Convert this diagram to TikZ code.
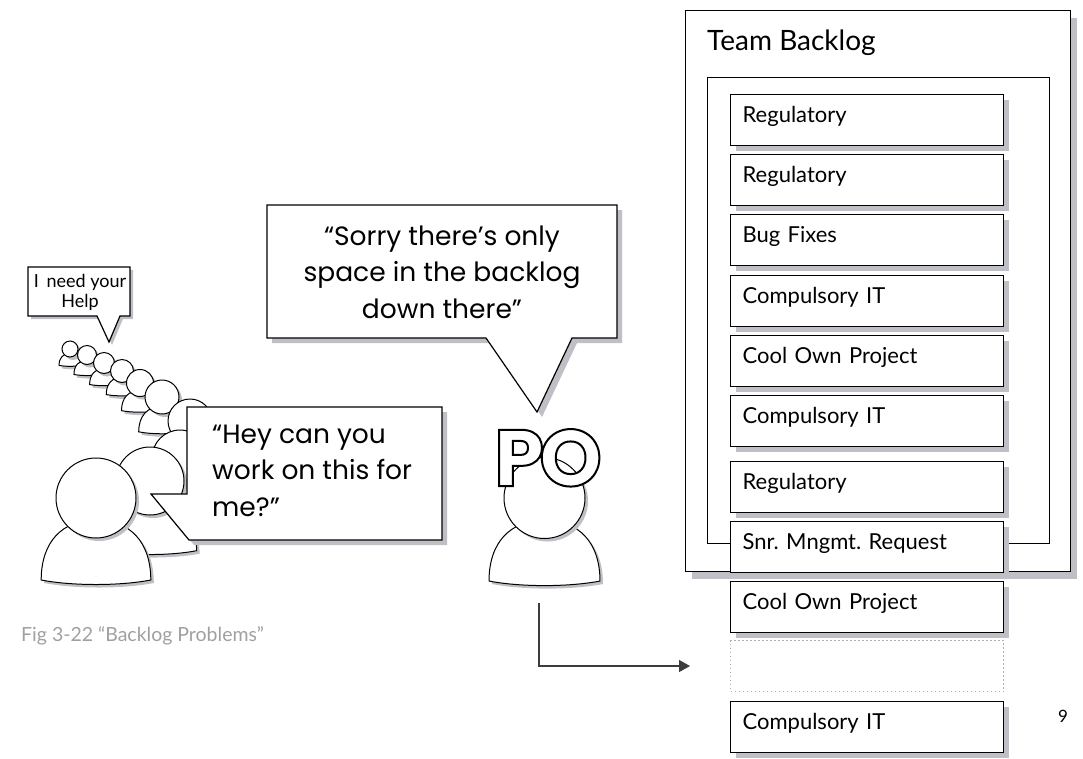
\documentclass[tikz,border=0pt]{standalone}
\usepackage{fontspec}
\setmainfont{Lato}
\newfontfamily\bubblefont{Poppins}
\newfontfamily\poline{Poppins}[BoldFeatures={FakeBold=2.5}]
\usetikzlibrary{shadows,arrows.meta,calc}
\frenchspacing

\definecolor{shgray}{RGB}{190,192,197}
\definecolor{capgray}{RGB}{160,160,160}
\definecolor{linegray}{RGB}{60,60,60}
\definecolor{dotgray}{RGB}{175,175,175}

% one person: body dome, then the head as a named circle node
\newcommand\drawperson[4]{% #1 name, #2 cx, #3 cy, #4 head radius
  \path[personline, softshadow]
    ({#2-1.37*#4},{#3+2.05*#4})
    .. controls ({#2-1.37*#4},{#3+1.1*#4}) and ({#2-0.85*#4},{#3+0.55*#4}) .. ({#2},{#3+0.55*#4})
    .. controls ({#2+0.85*#4},{#3+0.55*#4}) and ({#2+1.37*#4},{#3+1.1*#4}) .. ({#2+1.37*#4},{#3+2.05*#4})
    .. controls ({#2+0.6*#4},{#3+2.2*#4}) and ({#2-0.6*#4},{#3+2.2*#4}) .. cycle;
  \node[personline, softshadow, circle, inner sep=0pt, minimum size={2*#4pt}] (#1) at (#2,#3) {};
}

\begin{document}
\begin{tikzpicture}[x=1pt,y=-1pt,
  outline/.style={draw=black, line width=1.2pt, fill=white},
  personline/.style={draw=black, line width=1pt, fill=white},
  shadowed/.style={drop shadow={shadow xshift=5pt, shadow yshift=-5pt, fill=shgray, opacity=1}},
  softshadow/.style={drop shadow={shadow xshift=3pt, shadow yshift=-3pt, fill=shgray, opacity=1}},
  item/.style={outline, shadowed, anchor=north west, inner xsep=12pt, inner ysep=0pt,
    text width=249pt, align=left, text height=28pt, text depth=23pt,
    font=\fontsize{22}{26}\selectfont},
  gapbox/.style={draw=dotgray, line width=1pt, dash pattern=on 1.5pt off 2.5pt,
    anchor=north west, minimum width=273pt, minimum height=51pt, inner sep=0pt},
  bubbletext/.style={inner sep=0pt, font=\bubblefont\fontsize{26.5}{36.5}\selectfont},
]
\useasboundingbox (0,0) rectangle (1083,758);

% ---------------- team backlog panel ----------------
\node[outline, drop shadow={shadow xshift=6pt, shadow yshift=-7pt, fill=shgray, opacity=1},
  anchor=north west, minimum width=385pt, minimum height=561pt, inner sep=0pt] (backlog) at (685,10) {};
\node[anchor=base west, inner sep=0pt, font=\fontsize{28}{32}\selectfont] (title) at (707,50) {Team Backlog};
\node[outline, anchor=north west, minimum width=342pt, minimum height=466pt, inner sep=0pt] (sprint) at (707,77) {};

\node[item] (i1)  at (730,94)  {Regulatory};
\node[item] (i2)  at (730,154) {Regulatory};
\node[item] (i3)  at (730,214) {Bug Fixes};
\node[item] (i4)  at (730,275) {Compulsory IT};
\node[item] (i5)  at (730,335) {Cool Own Project};
\node[item] (i6)  at (730,395) {Compulsory IT};
\node[item] (i7)  at (730,461) {Regulatory};
\node[item] (i8)  at (730,521) {Snr. Mngmt. Request};
\node[item] (i9)  at (730,581) {Cool Own Project};
\node[gapbox] (gap) at (730,640) {};
\node[item] (i10) at (730,701) {Compulsory IT};

% ---------------- queue of requesters ----------------
\drawperson{q1}{70}{349}{8}
\drawperson{q2}{87}{355}{9.5}
\drawperson{q3}{104}{363}{10.5}
\drawperson{q4}{122}{371}{11.5}
\drawperson{q5}{140}{383}{13.5}
\drawperson{q6}{162}{397}{17}
\drawperson{q7}{190}{421}{22}
\drawperson{q8}{180}{458}{28}
\drawperson{q9}{150}{481}{34}
\drawperson{q10}{96}{498}{40}

% small bubble at the back of the queue
\path[outline, softshadow] (28,267) -- (130,267) -- (130,316) -- (120,316) -- (109,342)
  -- (97,316) -- (28,316) -- cycle;
\node[anchor=base, inner sep=0pt, font=\fontsize{18}{20}\selectfont] (helptext) at (80,287)
  {\begin{tabular}[t]{@{}c@{}}I\, need your\\ Help\end{tabular}};

% request bubble
\path[outline, shadowed] (187,407) -- (442,407) -- (442,540) -- (189,540) -- (151,494)
  -- (187,494) -- cycle;
\node[bubbletext, anchor=base west] (heytext) at (212,443)
  {\begin{tabular}[t]{@{}l@{}}“Hey can you\\ work on this for\\ me?”\end{tabular}};

% ---------------- product owner ----------------
\drawperson{pohead}{544.5}{498}{40.5}
\node[anchor=base west, inner sep=0pt, text=white,
  font=\poline\bfseries\fontsize{80}{80}\selectfont]
  (po) at (494,486) {\pgfsetstrokecolor{black}P\kern-5ptO};

% answer bubble
\path[outline, shadowed] (267,205) -- (617,205) -- (617,338) -- (572,338) -- (537,412)
  -- (486,338) -- (267,338) -- cycle;
\node[bubbletext, anchor=base] (sorrytext) at (442,245)
  {\begin{tabular}[t]{@{}c@{}}“Sorry there’s only\\ space in the backlog\\ down there”\end{tabular}};

% where the new request ends up
\coordinate (arrowfrom) at (539,603);
\coordinate (arrowto) at ($(gap.west)+(-40,0)$);
\draw[linegray, line width=1.3pt, -{Triangle[length=11pt,width=12pt]}] (arrowfrom) |- (arrowto);

% caption and page number
\node[anchor=base west, inner sep=0pt, text=capgray, font=\fontsize{19.5}{22}\selectfont] (caption)
  at (21,641) {Fig 3-22 “Backlog Problems”};
\node[anchor=base west, inner sep=0pt, font=\fontsize{17}{20}\selectfont] (pagenum) at (1058,722) {9};
\end{tikzpicture}
\end{document}
